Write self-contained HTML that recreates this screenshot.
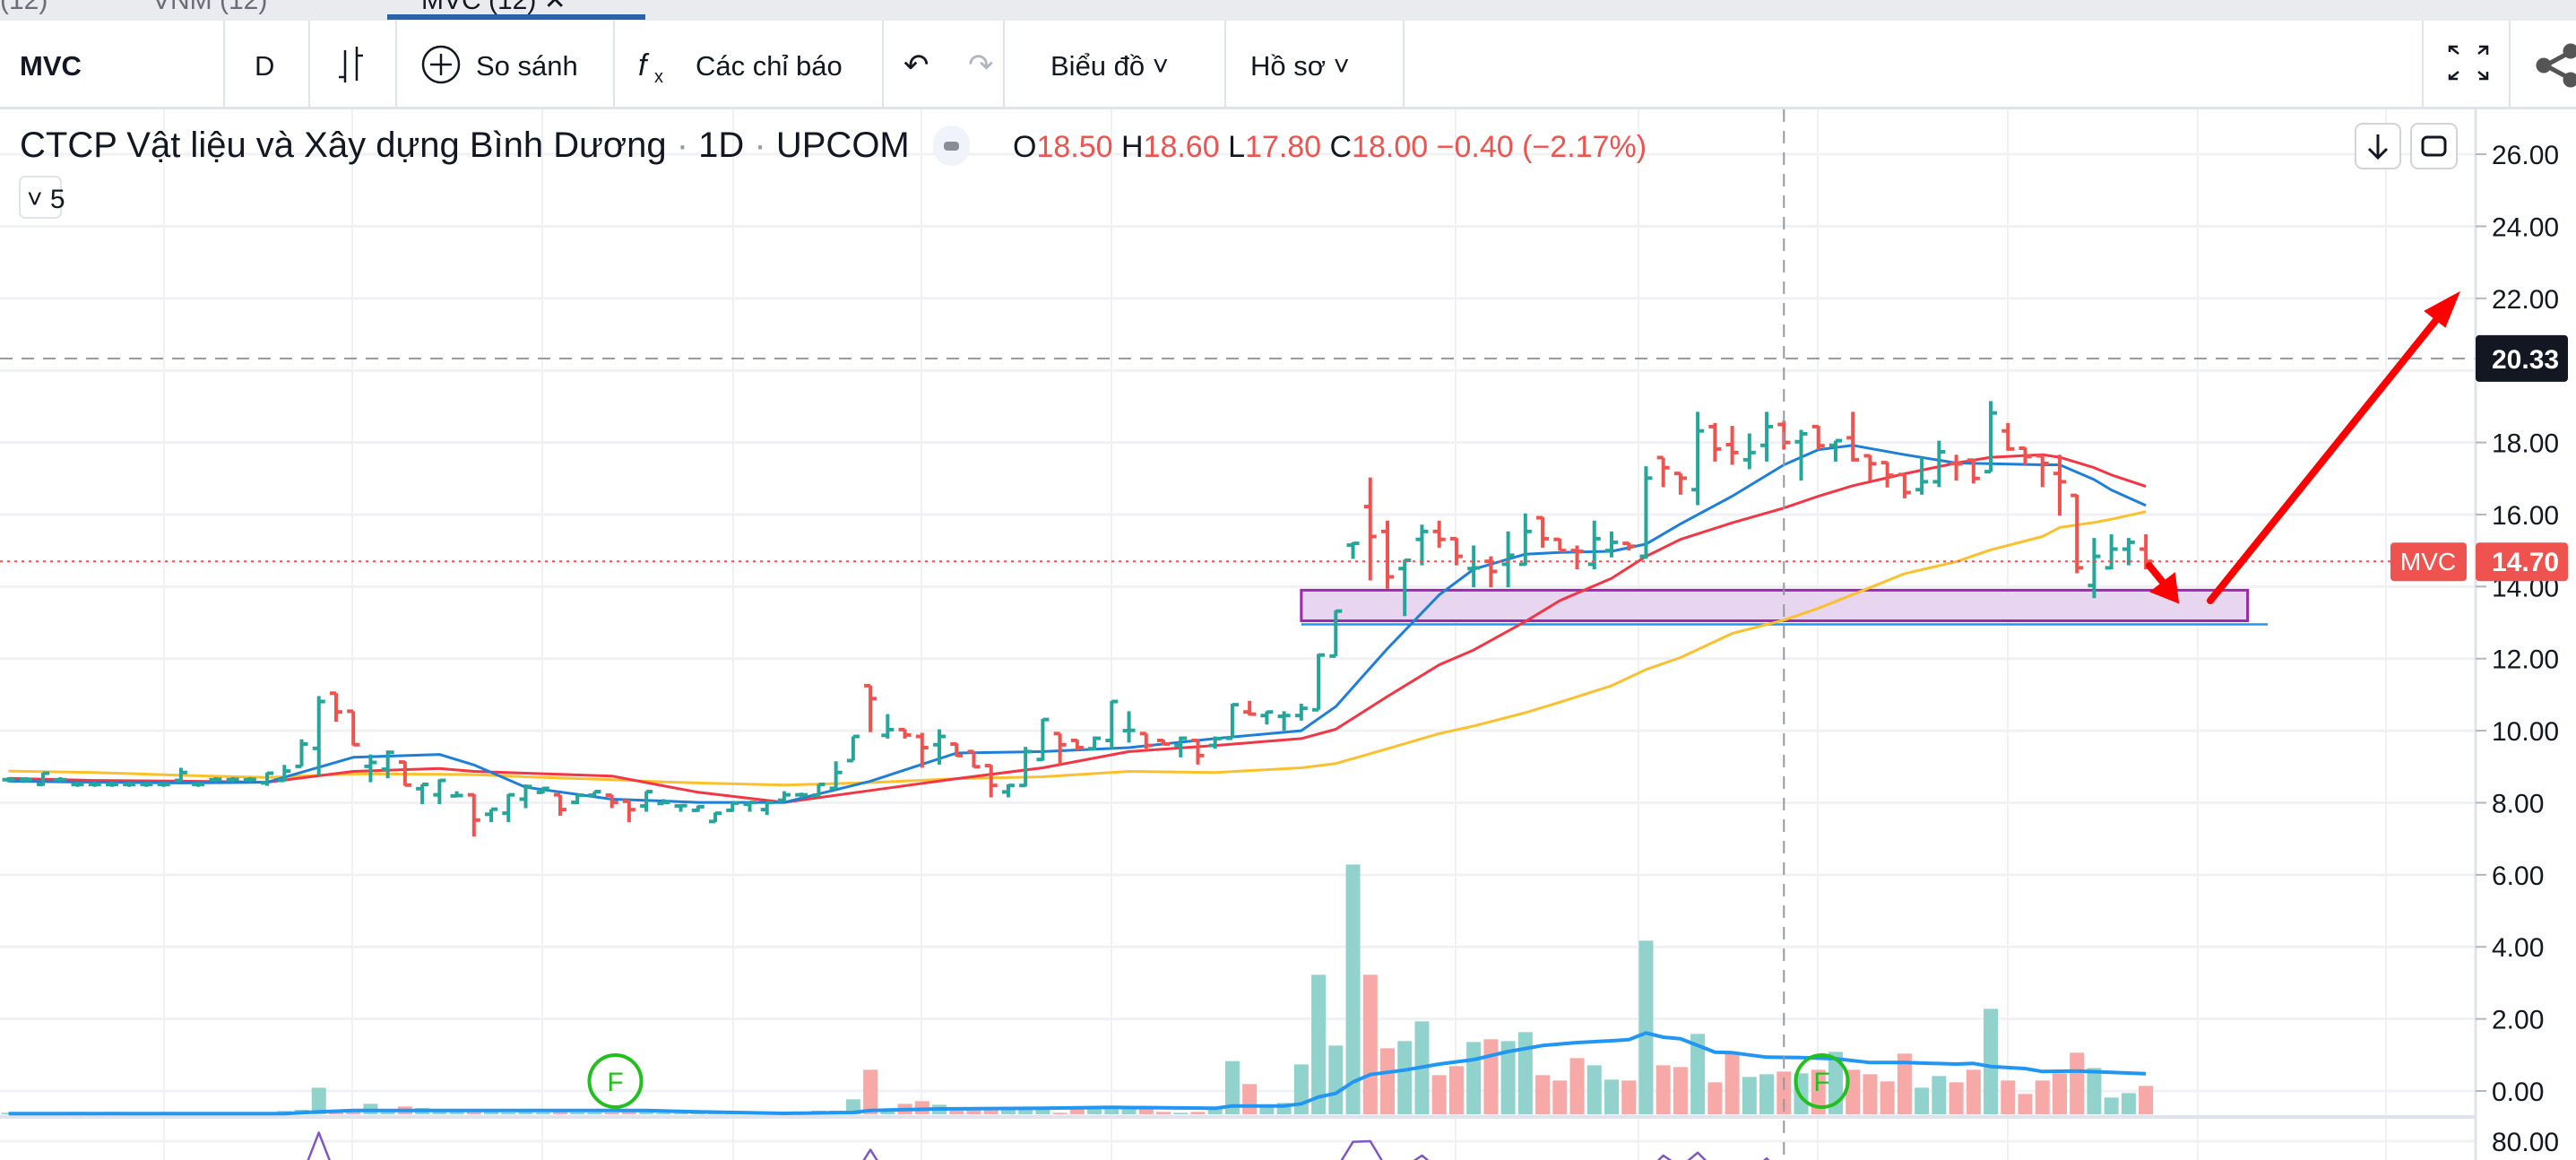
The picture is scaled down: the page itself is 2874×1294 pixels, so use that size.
<!DOCTYPE html>
<html><head><meta charset="utf-8">
<style>
html,body{margin:0;padding:0;background:#fff;overflow:hidden}
svg{display:block}
text{font-family:"Liberation Sans","Noto Sans CJK SC",sans-serif}
</style></head>
<body>
<svg id="c" width="2874" height="1294" viewBox="0 0 2874 1294" xmlns="http://www.w3.org/2000/svg">
<rect x="0" y="0" width="2874" height="1294" fill="#ffffff"/>
<g>
<rect x="0" y="0" width="2874" height="23" fill="#e9ebef"/>
<text x="0" y="10" font-size="30" fill="#6a6d78">(12)</text>
<text x="170" y="10" font-size="30" fill="#6a6d78">VNM (12)</text>
<text x="470" y="10" font-size="30" fill="#131722">MVC (12) ✕</text>
<rect x="432" y="16" width="288" height="6" fill="#2962a8"/>
</g>
<g>
<rect x="0" y="23" width="2874" height="96" fill="#fff"/>
<rect x="0" y="119" width="2874" height="3" fill="#e0e3eb"/>
<g stroke="#e0e3eb" stroke-width="2">
<line x1="250" y1="23" x2="250" y2="119"/><line x1="345" y1="23" x2="345" y2="119"/><line x1="442" y1="23" x2="442" y2="119"/><line x1="685" y1="23" x2="685" y2="119"/><line x1="985" y1="23" x2="985" y2="119"/><line x1="1120" y1="23" x2="1120" y2="119"/><line x1="1367" y1="23" x2="1367" y2="119"/><line x1="1566" y1="23" x2="1566" y2="119"/><line x1="2703" y1="23" x2="2703" y2="119"/><line x1="2800" y1="23" x2="2800" y2="119"/>
</g>
<text x="22" y="84" font-size="31" font-weight="bold" fill="#131722">MVC</text>
<text x="284" y="84" font-size="31" fill="#131722">D</text>
<g stroke="#131722" stroke-width="2.5" fill="none"><line x1="385" y1="56" x2="385" y2="92"/><line x1="378" y1="86" x2="385" y2="86"/><line x1="398" y1="52" x2="398" y2="90"/><line x1="398" y1="62" x2="405" y2="62"/></g>
<g><circle cx="492" cy="72" r="20" fill="none" stroke="#131722" stroke-width="2.5"/><line x1="492" y1="60" x2="492" y2="84" stroke="#131722" stroke-width="2.5"/><line x1="480" y1="72" x2="504" y2="72" stroke="#131722" stroke-width="2.5"/><text x="531" y="84" font-size="31" fill="#131722">So sánh</text></g>
<g><text x="712" y="84" font-size="34" font-style="italic" fill="#131722">f</text><text x="730" y="92" font-size="20" fill="#131722">x</text><text x="776" y="84" font-size="31" fill="#131722">Các chỉ báo</text></g>
<text x="1008" y="84" font-size="34" fill="#131722">↶</text>
<text x="1080" y="84" font-size="34" fill="#b2b5be">↷</text>
<text x="1172" y="84" font-size="31" fill="#131722">Biểu đồ ˅</text>
<text x="1395" y="84" font-size="31" fill="#131722">Hồ sơ ˅</text>
<g stroke="#131722" stroke-width="2.5" fill="none"><path d="M2733 58 L2733 52 L2742 52 M2733 52 L2743 60 M2766 52 L2775 52 L2775 61 M2775 52 L2765 60 M2733 83 L2733 88 L2742 88 M2733 88 L2743 80 M2766 88 L2775 88 L2775 80 M2775 88 L2765 80"/></g>
<g fill="#555" stroke="#555" stroke-width="5"><line x1="2840" y1="73" x2="2868" y2="58"/><line x1="2840" y1="73" x2="2868" y2="88"/><circle cx="2838" cy="73" r="6"/><circle cx="2868" cy="57" r="6"/><circle cx="2868" cy="89" r="6"/></g>
</g>
<g id="grid"></g>
<g id="vol"></g>
<g id="price"></g>
<g id="ann"></g>
<g id="axis"></g>
<g>
<text x="22" y="175" font-size="40" fill="#131722">CTCP Vật liệu và Xây dựng Bình Dương <tspan fill="#9598a1">·</tspan> 1D <tspan fill="#9598a1">·</tspan> UPCOM</text>
<rect x="1041" y="140" width="41" height="45" rx="20" fill="#f0f3fa"/>
<rect x="1053" y="158" width="17" height="10" rx="4" fill="#8a8d97"/>
<text x="1130" y="175" font-size="34" fill="#131722">O<tspan fill="#ef5350">18.50</tspan> H<tspan fill="#ef5350">18.60</tspan> L<tspan fill="#ef5350">17.80</tspan> C<tspan fill="#ef5350">18.00</tspan> <tspan fill="#ef5350">−0.40 (−2.17%)</tspan></text>
<rect x="22" y="197" width="46" height="46" rx="6" fill="#fff" stroke="#e0e3eb" stroke-width="2"/>
<text x="30" y="232" font-size="30" fill="#131722">˅ 5</text>
<rect x="2628" y="138" width="50" height="50" rx="8" fill="#fff" stroke="#d1d4dc" stroke-width="2"/>
<g stroke="#131722" stroke-width="3" fill="none"><line x1="2653" y1="150" x2="2653" y2="175"/><path d="M2643 166 L2653 176 L2663 166"/></g>
<rect x="2690" y="138" width="51" height="50" rx="8" fill="#fff" stroke="#d1d4dc" stroke-width="2"/>
<rect x="2703" y="153" width="25" height="20" rx="5" fill="none" stroke="#131722" stroke-width="3"/>
</g>
</svg>
<script>
// ===== data =====
const opens =[8.64,8.64,8.51,8.64,8.51,8.51,8.51,8.51,8.51,8.51,8.62,8.51,8.64,8.64,8.64,8.55,8.62,9.01,9.51,11.04,10.54,9.01,8.93,9.13,8.39,8.22,8.19,8.22,7.68,7.71,8.10,8.29,8.22,8.01,8.21,8.21,8.04,7.91,7.98,7.91,7.79,7.48,7.79,7.96,7.81,8.07,8.22,8.21,8.40,9.17,11.25,9.87,10.03,9.84,9.61,9.63,9.42,9.03,8.30,8.48,9.20,9.92,9.73,9.50,9.73,10.00,9.92,9.73,9.59,9.73,9.59,9.79,10.52,10.42,10.40,10.42,10.58,12.07,15.15,16.22,15.53,14.50,15.31,15.53,15.33,14.50,14.70,14.62,14.62,15.91,15.31,15.00,14.62,15.00,15.20,14.84,17.58,17.14,16.69,18.44,17.94,17.52,17.92,18.50,18.02,18.44,17.92,18.13,17.63,17.44,17.11,16.69,16.91,17.42,17.51,17.19,18.32,17.84,17.63,17.14,16.53,14.03,14.52,15.04,15.04];
const highs =[8.66,8.66,8.84,8.66,8.53,8.53,8.53,8.53,8.53,8.53,8.97,8.53,8.66,8.66,8.66,8.84,9.05,9.76,10.96,11.04,10.54,9.34,9.45,9.15,8.51,8.65,8.32,8.24,7.82,8.24,8.51,8.43,8.22,8.22,8.32,8.22,8.04,8.32,8.10,7.92,7.92,7.73,8.01,8.04,8.04,8.32,8.23,8.51,9.15,9.84,11.25,10.46,10.04,9.94,10.04,9.65,9.42,9.05,8.51,9.55,10.33,9.92,9.75,9.84,10.83,10.54,9.92,9.75,9.84,9.75,9.84,10.75,10.83,10.54,10.54,10.75,12.13,13.34,15.23,17.03,15.83,14.75,15.72,15.83,15.35,15.14,14.84,15.53,16.03,15.93,15.33,15.14,15.83,15.53,15.22,17.34,17.58,17.14,18.85,18.54,18.46,18.25,18.85,18.60,18.35,18.46,18.05,18.85,17.65,17.46,17.13,17.59,18.05,17.66,17.55,19.15,18.54,17.86,17.65,17.66,16.55,15.35,15.45,15.35,15.45];
const lows  =[8.62,8.62,8.47,8.62,8.49,8.49,8.49,8.49,8.49,8.49,8.59,8.49,8.62,8.62,8.62,8.47,8.59,9.01,8.76,10.25,9.59,8.57,8.68,8.47,7.96,7.96,8.16,7.06,7.46,7.46,7.85,8.26,7.64,7.96,8.19,7.85,7.46,7.75,7.97,7.75,7.75,7.46,7.75,7.75,7.66,8.05,8.18,8.18,8.38,9.17,9.96,9.78,9.78,8.97,9.06,9.28,8.98,8.15,8.15,8.45,9.17,9.06,9.46,9.46,9.50,9.67,9.50,9.61,9.26,9.06,9.50,9.79,10.42,10.17,10.00,10.28,10.58,12.07,14.77,14.17,13.94,13.18,14.59,15.08,14.59,13.98,13.98,13.98,14.59,15.08,15.00,14.48,14.48,14.81,15.00,14.77,16.76,16.55,16.26,17.47,17.38,17.26,17.47,17.80,16.94,17.80,17.47,17.47,16.94,16.75,16.45,16.55,16.76,16.94,16.86,17.18,17.77,17.38,16.76,15.97,14.37,13.68,14.48,14.59,14.48];
const closes=[8.64,8.64,8.82,8.64,8.51,8.51,8.51,8.51,8.51,8.51,8.84,8.51,8.65,8.65,8.65,8.82,8.88,9.63,10.81,10.52,9.61,9.12,9.40,8.49,8.51,8.62,8.20,7.52,7.82,8.22,8.45,8.40,7.81,8.21,8.31,8.01,7.81,8.31,8.01,7.92,7.89,7.71,7.99,8.01,8.01,8.22,8.22,8.51,8.84,9.84,10.89,10.03,9.88,9.53,9.84,9.31,9.00,8.48,8.48,9.42,10.31,9.61,9.53,9.79,10.81,10.01,9.59,9.63,9.79,9.31,9.78,10.72,10.46,10.52,10.42,10.62,12.10,13.32,15.20,15.39,14.27,14.73,15.53,15.31,14.84,14.52,14.42,14.87,15.53,15.33,15.00,14.98,15.33,15.23,15.12,17.01,17.30,17.01,18.32,17.82,17.72,17.72,18.44,18.00,18.24,17.91,18.05,17.52,17.41,17.09,16.61,16.91,17.74,17.41,17.00,18.82,17.82,17.61,17.42,16.91,14.52,14.84,15.04,15.23,14.70];
const volumes=[0.05,0.04,0.04,0.05,0.08,0.04,0.08,0.03,0.03,0.03,0.03,0.03,0.03,0.03,0.03,0.04,0.11,0.15,0.89,0.15,0.10,0.35,0.15,0.26,0.21,0.10,0.10,0.12,0.12,0.06,0.10,0.06,0.12,0.06,0.06,0.06,0.12,0.08,0.05,0.04,0.04,0.04,0.04,0.04,0.04,0.04,0.04,0.12,0.12,0.50,1.49,0.13,0.35,0.44,0.32,0.13,0.23,0.23,0.18,0.18,0.18,0.05,0.23,0.18,0.18,0.23,0.23,0.08,0.05,0.08,0.25,1.78,1.01,0.28,0.38,1.67,4.67,2.30,8.36,4.67,2.21,2.45,3.11,1.31,1.61,2.42,2.51,2.45,2.75,1.31,1.13,1.88,1.64,1.16,1.13,5.81,1.64,1.58,2.69,1.07,2.03,1.25,1.34,1.43,1.37,1.49,2.09,1.49,1.34,1.10,2.03,0.89,1.28,1.07,1.49,3.53,1.13,0.68,1.13,1.37,2.06,1.55,0.56,0.71,0.95];
const maIdx=[0,5,10,15,20,25,27,30,35,38,40,45,50,55,60,65,70,75,77,80,83,85,88,90,93,95,97,100,103,105,107,110,113,115,118,119,121,122,124];
const maFast=[8.6,8.57,8.55,8.57,9.26,9.34,9.05,8.43,8.1,8.05,8.01,8.01,8.6,9.38,9.42,9.53,9.78,10.0,10.67,12.28,13.77,14.48,14.9,14.95,14.98,15.18,15.74,16.51,17.38,17.8,17.92,17.66,17.43,17.41,17.38,17.38,16.97,16.68,16.25];
const maMid=[8.68,8.62,8.6,8.57,8.87,8.95,8.87,8.82,8.74,8.47,8.29,8.01,8.34,8.67,8.97,9.42,9.59,9.78,10.04,10.95,11.83,12.24,13.03,13.61,14.23,14.84,15.31,15.77,16.18,16.51,16.8,17.13,17.43,17.59,17.66,17.59,17.3,17.1,16.78];
const maSlow=[8.88,8.84,8.76,8.7,8.8,8.79,8.78,8.72,8.64,8.58,8.55,8.49,8.56,8.67,8.72,8.87,8.84,8.97,9.09,9.5,9.92,10.13,10.5,10.79,11.25,11.7,12.03,12.7,13.07,13.4,13.78,14.36,14.69,15.02,15.39,15.64,15.78,15.87,16.08];
const volMaIdx=[0,16,18,20,37,40,45,49,50,54,60,64,70,71,74,75,76,77,78,79,81,83,85,87,89,91,93,94,95,96,97,99,100,102,104,106,108,110,113,114,115,117,118,120,122,124];
const volMa=[0.02,0.02,0.08,0.13,0.13,0.08,0.03,0.06,0.13,0.18,0.2,0.23,0.2,0.28,0.28,0.35,0.58,0.7,1.08,1.33,1.48,1.68,1.83,2.1,2.3,2.4,2.46,2.5,2.72,2.58,2.53,2.08,2.06,1.91,1.9,1.86,1.73,1.73,1.68,1.7,1.6,1.53,1.43,1.45,1.4,1.36];
const rsiIdx=[0,17,18,19,48,49,50,51,76,77,78,79,80,81,82,83,95,96,97,98,99,101,102,103,124];
const rsiVal=[50,55,86,55,50,55,74,55,50,60,79.5,80,60,62,70,60,58,70,62,72,60,58,68,55,50];
const priceTicks=[0,2,4,6,8,10,12,14,16,18,20,22,24,26];
const tickLabels=["0.00","2.00","4.00","6.00","8.00","10.00","12.00","14.00","16.00","18.00","20.00","22.00","24.00","26.00"];
const lastPrice=14.70, crossPrice=20.33, crossIndex=103;
const zoneTop=13.90, zoneBottom=13.05, zoneStart=75.0, zoneEnd=129.9;
const eventIdx=[35.2,105.2];

// ===== scales =====
const NS="http://www.w3.org/2000/svg";
const xOf=i=>9.6+19.23*i;
const py=p=>1217-40.19*p;
const vy=v=>1243-33.33*v;
const ry=v=>1273-(v-80)*1.6;
const PLOT_R=2762;
function mk(tag,attrs,parent){const e=document.createElementNS(NS,tag);for(const k in attrs)e.setAttribute(k,attrs[k]);parent.appendChild(e);return e;}
const grid=document.getElementById('grid'),vol=document.getElementById('vol'),price=document.getElementById('price'),ann=document.getElementById('ann'),axis=document.getElementById('axis');

// grid
const vGrid=[183,393,605,818,1028,1240,1624,1828,2028,2240,2452,2662];
vGrid.forEach(x=>{const l=mk('line',{x1:x,y1:122,x2:x,y2:1294,stroke:'#f0f1f4','stroke-width':2},grid);

});
priceTicks.forEach(t=>{const l=mk('line',{x1:0,y1:py(t),x2:PLOT_R,y2:py(t),stroke:'#f0f1f4','stroke-width':3},grid);

});
const g80=mk('line',{x1:0,y1:1273,x2:PLOT_R,y2:1273,stroke:'#f0f1f4','stroke-width':3},grid);


const sep=mk('rect',{x:0,y:1244,width:2874,height:4,fill:'#e0e3eb'},grid);



// volume bars
volumes.forEach((v,i)=>{const up=closes[i]>=opens[i];
const r=mk('rect',{x:xOf(i)-8,y:vy(v),width:16,height:1243-vy(v),fill:up?'#92d2cc':'#f7a9a7'},vol);

});
function poly(idx,vals,f,color,w,parent,name){const pts=idx.map((k,j)=>xOf(k).toFixed(1)+','+f(vals[j]).toFixed(1)).join(' ');
const p=mk('polyline',{points:pts,fill:'none',stroke:color,'stroke-width':w,'stroke-linejoin':'round'},parent);

}
poly(volMaIdx,volMa,vy,'#2196f3',4,vol,'volume-ma-line');
poly(rsiIdx,rsiVal,ry,'#7e57c2',2.5,vol,'rsi-line');

// crosshair & price lines
const ch=mk('line',{x1:xOf(crossIndex),y1:122,x2:xOf(crossIndex),y2:1294,stroke:'#9598a1','stroke-width':2,'stroke-dasharray':'14 10'},ann);


const chh=mk('line',{x1:0,y1:py(crossPrice),x2:PLOT_R,y2:py(crossPrice),stroke:'#9598a1','stroke-width':2,'stroke-dasharray':'14 10'},ann);


const lp=mk('line',{x1:0,y1:py(lastPrice),x2:2667,y2:py(lastPrice),stroke:'#ef5350','stroke-width':2,'stroke-dasharray':'3 5'},ann);



// support zone
const z=mk('rect',{x:xOf(zoneStart),y:py(zoneTop),width:xOf(zoneEnd)-xOf(zoneStart),height:py(zoneBottom)-py(zoneTop),fill:'#e8d5ef',stroke:'#9c27b0','stroke-width':3},price);


const zl=mk('line',{x1:xOf(zoneStart),y1:py(zoneBottom)+4,x2:2530,y2:py(zoneBottom)+4,stroke:'#2196f3','stroke-width':2.5},price);



// moving averages
poly(maIdx,maSlow,py,'#fbc02d',3,price,'ma-slow-line');
poly(maIdx,maMid,py,'#f23645',3,price,'ma-mid-line');
poly(maIdx,maFast,py,'#1e7fd8',3,price,'ma-fast-line');

// OHLC bars
opens.forEach((o,i)=>{const c=closes[i],up=c>=o,col=up?'#26a69a':'#ef5350',x=xOf(i);
const g=mk('g',{stroke:col,'stroke-width':4},price);


let hy=py(highs[i]),ly=py(lows[i]);if(ly-hy<4){hy-=2;ly+=2;}
mk('line',{x1:x,y1:hy,x2:x,y2:ly},g);
mk('line',{x1:x-7,y1:py(o),x2:x,y2:py(o)},g);
mk('line',{x1:x,y1:py(c),x2:x+7,y2:py(c)},g);});

// event markers
eventIdx.forEach(k=>{const g=mk('g',{},ann);


mk('circle',{cx:xOf(k),cy:1206,r:29,fill:'none',stroke:'#22c01e','stroke-width':4},g);
const t=mk('text',{x:xOf(k),y:1217,'font-size':30,fill:'#22c01e','text-anchor':'middle'},g);t.textContent='F';});

// drawn arrows
const ag=mk('g',{stroke:'#ff0000','stroke-width':8,'stroke-linecap':'round',fill:'#ff0000'},ann);


mk('line',{x1:2398,y1:631,x2:2415,y2:652},ag);
mk('polygon',{points:'2400,660 2426,640 2430,672','stroke-width':2},ag);
mk('line',{x1:2466,y1:670,x2:2722,y2:352},ag);
mk('polygon',{points:'2743,327 2706,347 2728,364','stroke-width':2},ag);

// axis
mk('rect',{x:PLOT_R,y:122,width:2874-PLOT_R,height:1172,fill:'#fff'},axis);
mk('line',{x1:PLOT_R,y1:122,x2:PLOT_R,y2:1294,stroke:'#e0e3eb','stroke-width':3},axis);
priceTicks.forEach((t,j)=>{mk('line',{x1:PLOT_R,y1:py(t),x2:PLOT_R+12,y2:py(t),stroke:'#b2b5be','stroke-width':2},axis);
const tx=mk('text',{x:2780,y:py(t)+11,'font-size':30,fill:'#131722'},axis);tx.textContent=tickLabels[j];

});
const t80=mk('text',{x:2780,y:1284,'font-size':30,fill:'#131722'},axis);t80.textContent='80.00';


const cb=mk('rect',{x:PLOT_R,y:py(crossPrice)-26,width:103,height:52,rx:4,fill:'#131722'},axis);


const ct=mk('text',{x:2780,y:py(crossPrice)+11,'font-size':30,fill:'#fff','font-weight':'bold'},axis);ct.textContent=crossPrice.toFixed(2);
const mb=mk('rect',{x:2667,y:py(lastPrice)-21,width:85,height:43,rx:4,fill:'#ef5350'},ann);


const mt=mk('text',{x:2709,y:py(lastPrice)+10,'font-size':28,fill:'#fff','text-anchor':'middle'},ann);mt.textContent='MVC';
const lb=mk('rect',{x:PLOT_R,y:py(lastPrice)-21,width:103,height:43,rx:4,fill:'#ef5350'},axis);


const lt=mk('text',{x:2780,y:py(lastPrice)+11,'font-size':30,fill:'#fff','font-weight':'bold'},axis);lt.textContent=lastPrice.toFixed(2);
</script>
</body></html>
